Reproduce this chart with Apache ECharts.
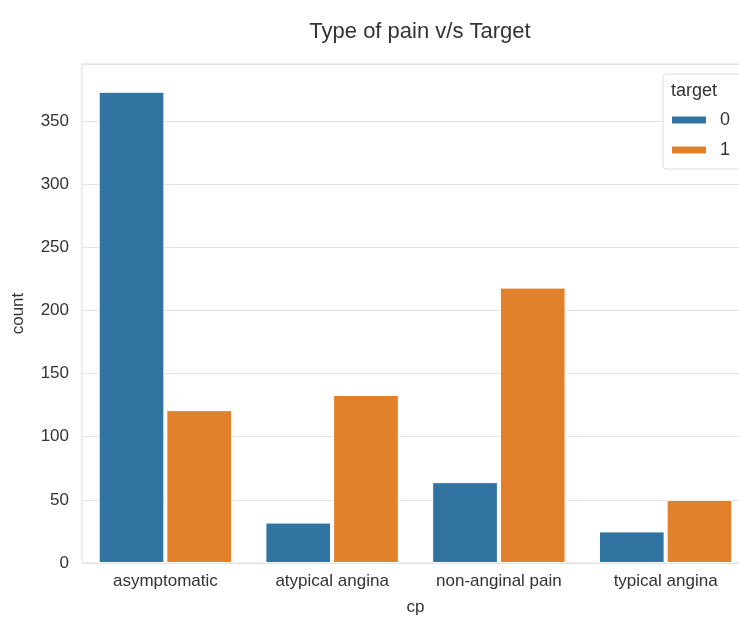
<!DOCTYPE html>
<html><head><meta charset="utf-8">
<script src="https://cdn.jsdelivr.net/npm/echarts@6/dist/echarts.min.js"></script>
<style>html,body{margin:0;padding:0;background:#fff}#c{width:739px;height:621px}</style>
</head><body><div id="c"></div>
<script>
const categories = ['asymptomatic', 'atypical angina', 'non-anginal pain', 'typical angina'];
const target0 = [373, 32, 64, 25];
const target1 = [121, 133, 218, 50];
const seriesNames = ['0', '1'];
const yTicks = [0, 50, 100, 150, 200, 250, 300, 350];

const font = 'Liberation Sans, Arial, sans-serif';
const txt = '#333333';
const chart = echarts.init(document.getElementById('c'));
chart.setOption({
  animation: false,
  backgroundColor: '#fff',
  title: {
    text: 'Type of pain v/s Target', left: 415, top: 16, textAlign: 'center',
    textStyle: { fontFamily: font, fontSize: 22, fontWeight: 'normal', color: txt }
  },
  grid: { left: 82, width: 667, top: 64, height: 499, show: true, borderColor: '#dddddd', borderWidth: 1,
    containLabel: false, outerBoundsMode: 'none' },
  legend: {
    orient: 'vertical', left: 663, top: 74,
    padding: [37, 30, 10, 7],
    itemWidth: 36, itemHeight: 9, itemGap: 12,
    borderColor: '#dddddd', borderWidth: 1, borderRadius: 3, backgroundColor: '#fff',
    textStyle: { fontFamily: font, fontSize: 18, color: txt, padding: [0, 0, 0, 8] },
    icon: 'rect',
    data: seriesNames
  },
  graphic: [{
    type: 'text', left: 671, top: 82, z: 100,
    style: { text: 'target', font: '18px ' + font, fill: txt }
  }],
  xAxis: {
    type: 'category', data: categories,
    name: 'cp', nameLocation: 'middle', nameGap: 36,
    nameTextStyle: { fontFamily: font, fontSize: 17, color: txt },
    axisLine: { show: false }, axisTick: { show: false },
    axisLabel: { fontFamily: font, fontSize: 17, color: txt, margin: 10, interval: 0 },
    splitLine: { show: false }
  },
  yAxis: {
    type: 'value', min: 0, max: 395, interval: 50,
    name: 'count', nameLocation: 'middle', nameGap: 55,
    nameTextStyle: { fontFamily: font, fontSize: 17, color: txt },
    axisLine: { show: false }, axisTick: { show: false },
    axisLabel: { fontFamily: font, fontSize: 17, color: txt, margin: 13,
      formatter: v => yTicks.includes(v) ? String(v) : '' },
    splitLine: { lineStyle: { color: '#e3e3e3', width: 1 } }
  },
  series: [
    { name: seriesNames[0], type: 'bar', data: target0, barGap: '3%', barCategoryGap: '20%',
      itemStyle: { color: '#3274a1', borderColor: '#fff', borderWidth: 1 } },
    { name: seriesNames[1], type: 'bar', data: target1,
      itemStyle: { color: '#e1812c', borderColor: '#fff', borderWidth: 1 } }
  ]
});
</script></body></html>
